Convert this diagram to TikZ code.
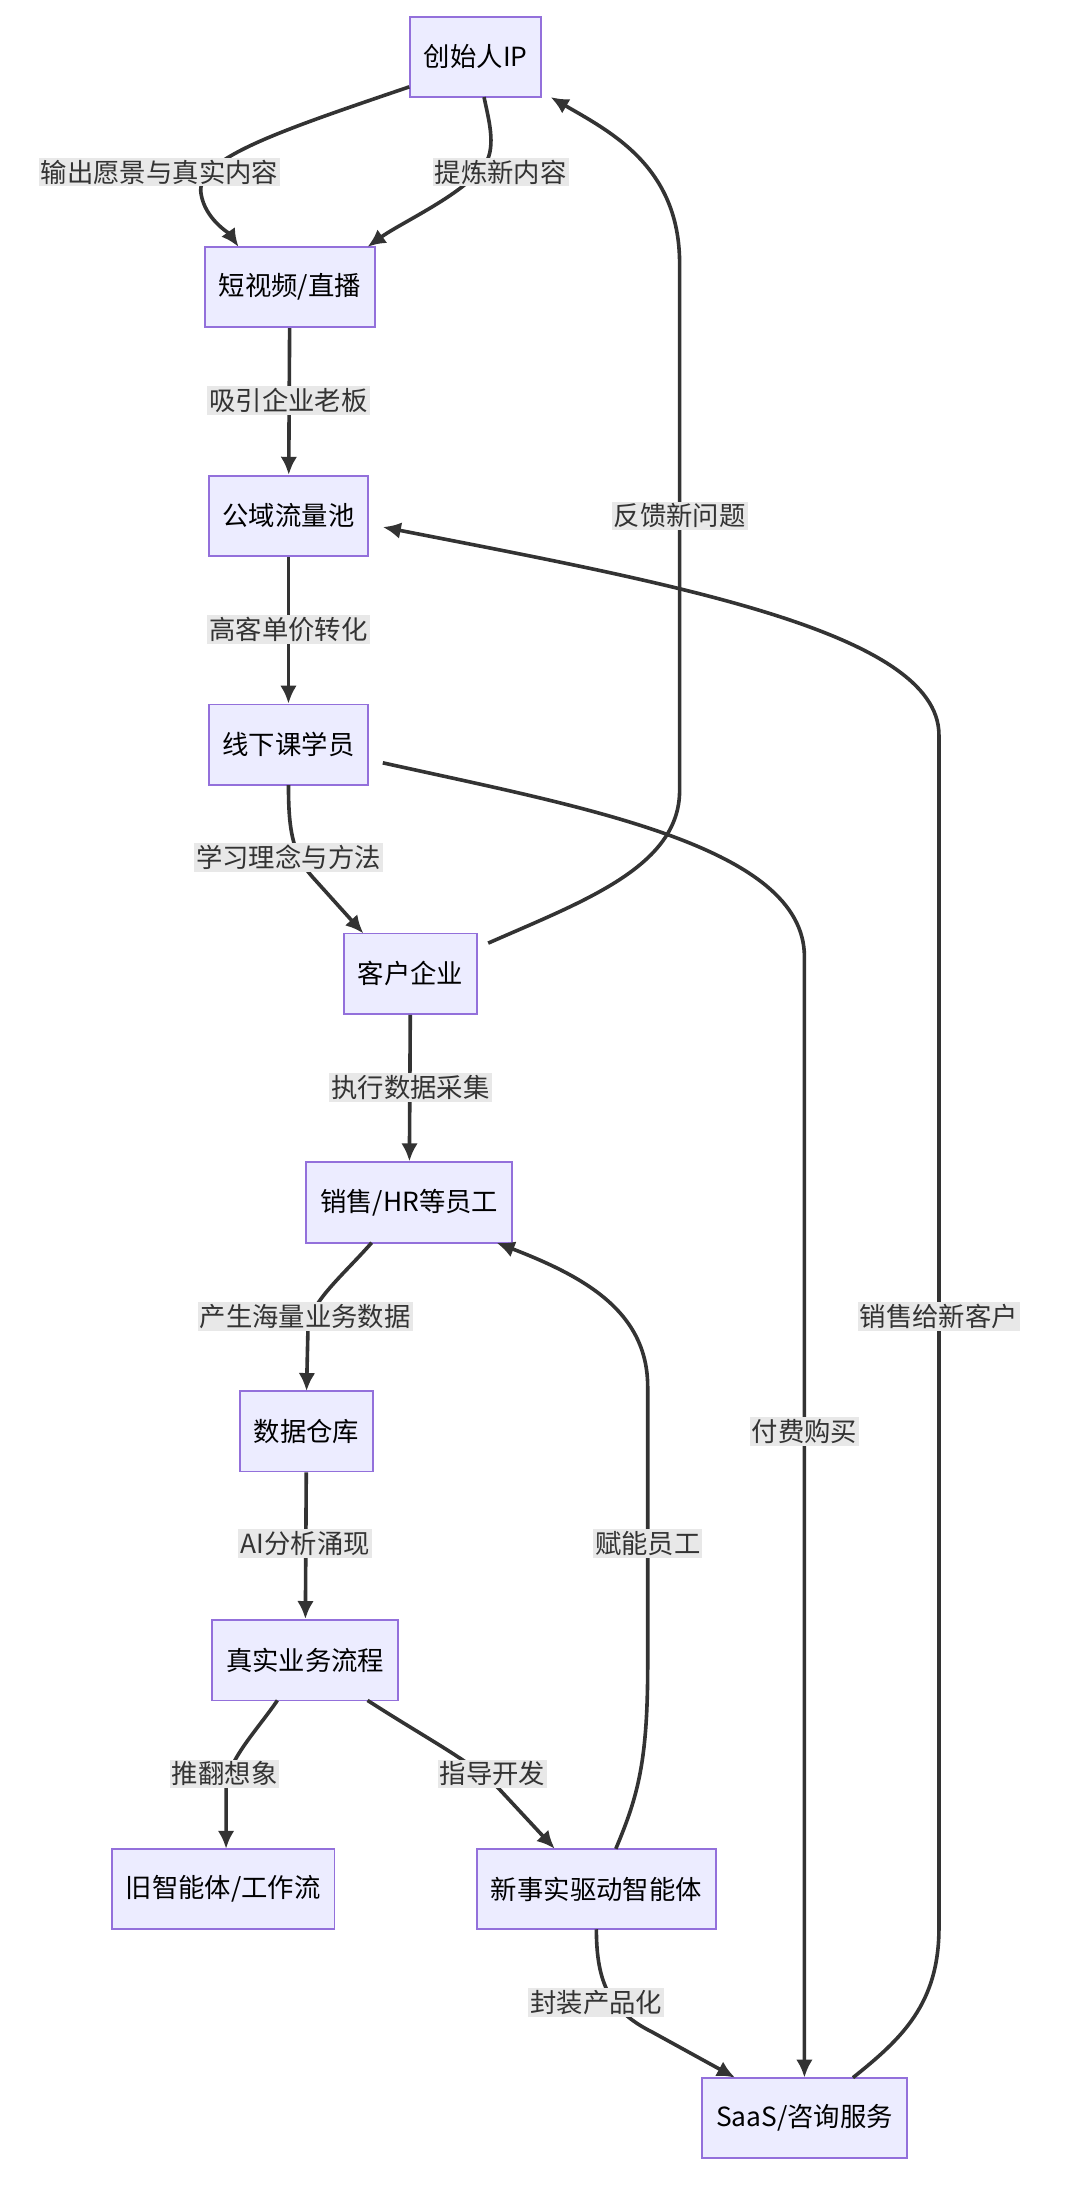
\documentclass[tikz,border=0pt]{standalone}
\usepackage{fontspec}
\setmainfont{Noto Sans CJK SC}
\usetikzlibrary{arrows.meta}
\definecolor{boxfill}{HTML}{ECECFF}
\definecolor{boxdraw}{HTML}{9370DB}
\definecolor{edge}{HTML}{333333}
\definecolor{lblbg}{HTML}{E8E8E8}
\tikzset{>={Latex[length=13pt,width=12pt]},
box/.style={draw=boxdraw, fill=boxfill, line width=1.3pt, minimum height=58pt, inner xsep=10pt, font=\fontsize{19}{22}\selectfont},
line/.style={draw=edge, line width=2.6pt},
lbl/.style={fill=lblbg, inner sep=1.5pt, font=\fontsize{19}{22}\selectfont, text=edge}}
\begin{document}
\begin{tikzpicture}[x=1pt,y=-1pt]
\useasboundingbox (0,0) rectangle (770,1592);
\node[box] (ip) at (343,41) {创始人IP};
\node[box] (video) at (209,207) {短视频/直播};
\node[box] (pool) at (208,372) {公域流量池};
\node[box] (course) at (208,537) {线下课学员};
\node[box] (client) at (296,702) {客户企业};
\node[box] (staff) at (295,867) {销售/HR等员工};
\node[box] (dw) at (221,1032) {数据仓库};
\node[box] (flow) at (220,1197) {真实业务流程};
\node[box] (old) at (161,1362) {旧智能体/工作流};
\node[box] (agent) at (430,1362) {新事实驱动智能体};
\node[box] (saas) at (580,1527) {SaaS/咨询服务};

% edges
\draw[->,line] (ip.south west) ++(0,-8) .. controls (200,95) and (140,115) .. (145,140) .. controls (148,158) and (165,168) .. (172,178);
\draw[->,line] (349,70) .. controls (352,85) and (358,105) .. (350,118) .. controls (335,140) and (290,160) .. (265,178);
\draw[->,line] (video) -- (pool);
\draw[->,line] (pool) -- (course);
\draw[->,line] (208,566) .. controls (208,595) and (210,615) .. (225,632) -- (262,673);
\draw[->,line] (352,680) .. controls (420,650) and (490,625) .. (490,570) -- (490,190) .. controls (490,120) and (440,95) .. (397,70);
\draw[->,line] (client) -- (staff);
\draw[->,line] (276,550) .. controls (420,582) and (580,610) .. (580,690) -- (580,1498);
\draw[->,line] (615,1498) .. controls (650,1470) and (677,1445) .. (677,1390) -- (677,530) .. controls (677,455) and (480,420) .. (276,380);
\draw[->,line] (268,896) .. controls (245,922) and (222,940) .. (222,960) -- (221,1003);
\draw[->,line] (dw) -- (flow);
\draw[->,line] (200,1226) .. controls (185,1248) and (163,1270) .. (163,1290) -- (163,1333);
\draw[->,line] (265,1226) .. controls (310,1255) and (340,1270) .. (360,1290) -- (400,1333);
\draw[->,line] (444,1333) .. controls (460,1295) and (467,1270) .. (467,1200) -- (467,1000) .. controls (467,945) and (420,920) .. (358,896);
\draw[->,line] (430,1391) .. controls (430,1430) and (440,1450) .. (470,1465) -- (530,1498);

% labels
\node[lbl] (l1) at (115,124) {输出愿景与真实内容};
\node[lbl] (l2) at (361,124) {提炼新内容};
\node[lbl] (l3) at (208,289) {吸引企业老板};
\node[lbl] (l4) at (208,454) {高客单价转化};
\node[lbl] (l5) at (208,618) {学习理念与方法};
\node[lbl] (l6) at (490,372) {反馈新问题};
\node[lbl] (l7) at (296,784) {执行数据采集};
\node[lbl] (l8) at (580,1032) {付费购买};
\node[lbl] (l9) at (677,949) {销售给新客户};
\node[lbl] (l10) at (220,949) {产生海量业务数据};
\node[lbl] (l11) at (220,1113) {AI分析涌现};
\node[lbl] (l12) at (162,1279) {推翻想象};
\node[lbl] (l13) at (355,1279) {指导开发};
\node[lbl] (l14) at (467,1113) {赋能员工};
\node[lbl] (l15) at (430,1444) {封装产品化};
\end{tikzpicture}
\end{document}
